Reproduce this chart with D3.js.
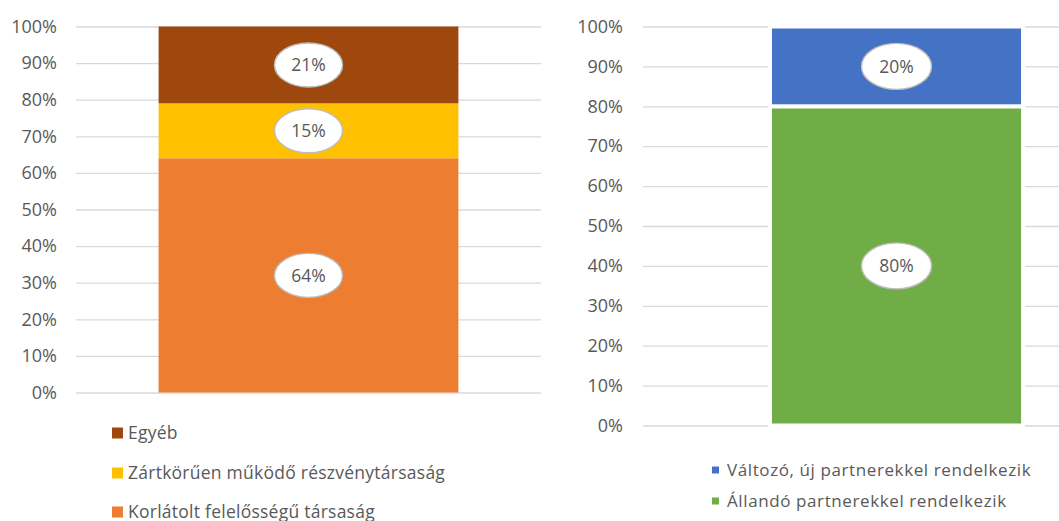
<!DOCTYPE html>
<html>
<head>
<meta charset="utf-8">
<script src="https://cdn.jsdelivr.net/npm/d3@7"></script>
<style>
  body { margin: 0; background: #fff; }
  svg { display: block; font-family: "Open Sans", sans-serif; }
</style>
</head>
<body>
<div id="chart"></div>
<script>
// Left chart: company form (bottom to top in the stack)
const formCategories = ["Korlátolt felelősségű társaság", "Zártkörűen működő részvénytársaság", "Egyéb"];
const formValues = [0.64, 0.15, 0.21];
const formColors = ["#ED7D31", "#FFC000", "#9E480E"];

// Right chart: partners (bottom to top in the stack)
const partnerCategories = ["Állandó partnerekkel rendelkezik", "Változó, új partnerekkel rendelkezik"];
const partnerValues = [0.80, 0.20];
const partnerColors = ["#70AD47", "#4472C4"];

const yTicks = [0, 0.1, 0.2, 0.3, 0.4, 0.5, 0.6, 0.7, 0.8, 0.9, 1];

const width = 1059, height = 521;

const svg = d3.select("#chart")
    .append("svg")
    .attr("width", width)
    .attr("height", height);

function drawStack(opts) {
    const g = svg.append("g");

    const y = d3.scaleLinear().domain([0, 1]).range([opts.bottom, opts.top]);
    const x = d3.scaleBand().domain(["all"]).range([opts.left, opts.right]).padding(opts.padding);

    // grid + tick labels
    const axis = g.append("g")
        .attr("transform", `translate(${opts.left},0)`)
        .call(d3.axisLeft(y)
            .tickValues(yTicks)
            .tickFormat(d3.format(".0%"))
            .tickSizeInner(-(opts.right - opts.left))
            .tickSizeOuter(0)
            .tickPadding(opts.labelGap));
    axis.select(".domain").remove();
    axis.selectAll(".tick line").attr("stroke", "#d9d9d9").attr("stroke-width", 1.3);
    axis.selectAll(".tick text")
        .attr("fill", "#595959")
        .style("font-size", "18px")
        .style("font-family", "'Open Sans', sans-serif");

    // stacked segments
    let acc = 0;
    const segs = opts.values.map((v, i) => {
        const s = {v: v, y0: acc, y1: acc + v, color: opts.colors[i]};
        acc += v;
        return s;
    });

    g.selectAll("rect.seg")
        .data(segs)
        .join("rect")
        .attr("class", "seg")
        .attr("x", x("all"))
        .attr("width", x.bandwidth())
        .attr("y", d => y(d.y1))
        .attr("height", d => y(d.y0) - y(d.y1))
        .attr("fill", d => d.color)
        .attr("stroke", opts.stroke)
        .attr("stroke-width", opts.strokeWidth);

    // data labels in ellipses
    const cx = x("all") + x.bandwidth() / 2;
    const lab = g.selectAll("g.lab")
        .data(segs)
        .join("g")
        .attr("class", "lab")
        .attr("transform", d => `translate(${cx},${y((d.y0 + d.y1) / 2)})`);
    lab.append("ellipse")
        .attr("rx", opts.rx)
        .attr("ry", opts.ry)
        .attr("fill", "#fff")
        .attr("stroke", "#bdbdbd")
        .attr("stroke-width", 1.4);
    lab.append("text")
        .attr("text-anchor", "middle")
        .attr("dy", "0.35em")
        .attr("fill", "#595959")
        .style("font-size", "17.5px")
        .text(d => d3.format(".0%")(d.v));

    // legend (top entry first)
    const legend = g.append("g");
    const items = opts.categories.map((c, i) => ({name: c, color: opts.colors[i]})).reverse();
    const li = legend.selectAll("g")
        .data(items)
        .join("g")
        .attr("transform", (d, i) => `translate(${opts.legendX},${opts.legendY[i]})`);
    li.append("rect")
        .attr("x", 0)
        .attr("y", -opts.swatch / 2)
        .attr("width", opts.swatch)
        .attr("height", opts.swatch)
        .attr("fill", d => d.color);
    li.append("text")
        .attr("x", opts.textX)
        .attr("dy", "0.35em")
        .attr("fill", "#595959")
        .style("font-size", opts.legendFont)
        .style("letter-spacing", opts.legendSpacing)
        .text(d => d.name);
}

drawStack({
    left: 76, right: 541, top: 26.5, bottom: 392.5, padding: 0.216, labelGap: 19,
    values: formValues, colors: formColors, categories: formCategories,
    stroke: "none", strokeWidth: 0, rx: 34, ry: 22,
    legendX: 112, legendY: [433, 473, 512], swatch: 11, textX: 16,
    legendFont: "17.5px", legendSpacing: "0.25px"
});

drawStack({
    left: 643, right: 1150, top: 26.5, bottom: 425.5, padding: 0.334, labelGap: 20,
    values: partnerValues, colors: partnerColors, categories: partnerCategories,
    stroke: "#fff", strokeWidth: 4, rx: 35, ry: 23,
    legendX: 712, legendY: [470, 501], swatch: 7, textX: 15,
    legendFont: "17px", legendSpacing: "0.6px"
});
</script>
</body>
</html>
